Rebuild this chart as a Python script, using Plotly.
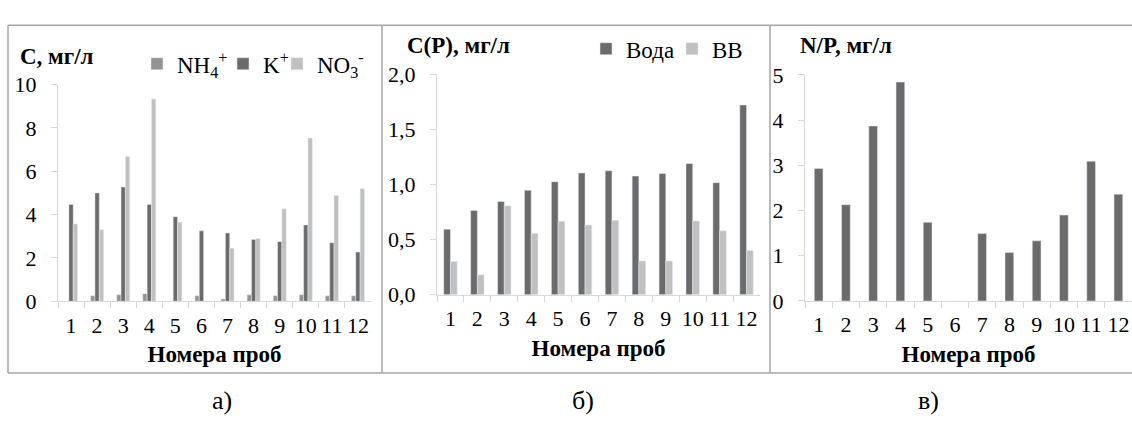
import plotly.graph_objects as go

W, H = 1132, 433

samples = [str(i) for i in range(1, 13)]

# Panel a: concentrations, mg/l
nh4 = [0, 0.25, 0.3, 0.35, 0, 0.25, 0.1, 0.3, 0.25, 0.3, 0.25, 0.25]
k_plus = [4.47, 5.0, 5.27, 4.47, 3.9, 3.25, 3.15, 2.85, 2.75, 3.52, 2.7, 2.27]
no3 = [3.57, 3.3, 6.68, 9.33, 3.65, 0, 2.45, 2.9, 4.27, 7.53, 4.88, 5.19]

# Panel b: phosphorus, mg/l
p_water = [0.594, 0.763, 0.846, 0.947, 1.024, 1.104, 1.124, 1.076, 1.099, 1.19, 1.016, 1.72]
p_ss = [0.30, 0.18, 0.806, 0.557, 0.666, 0.631, 0.674, 0.306, 0.306, 0.669, 0.58, 0.40]

# Panel c: N/P ratio
np_ratio = [2.93, 2.13, 3.87, 4.84, 1.74, 0, 1.49, 1.07, 1.33, 1.90, 3.09, 2.36]

ya_ticks = [0, 2, 4, 6, 8, 10]
yb_ticks = [0, 0.5, 1.0, 1.5, 2.0]
yb_labels = ["0,0", "0,5", "1,0", "1,5", "2,0"]
yc_ticks = [0, 1, 2, 3, 4, 5]

DARK = "#6b6b6b"
MID = "#939393"
LIGHT = "#c0c0c0"
AXC = "#d9d9d9"
SERIF = "Liberation Serif, Times New Roman, Times, DejaVu Serif, serif"


def px(x):
    return x / W


def py(y):
    return 1 - y / H


fig = go.Figure()
fig.add_trace(go.Bar(x=samples, y=nh4, name="NH<sub>4</sub><sup>+</sup>", marker_color=MID,
                     xaxis="x", yaxis="y", legend="legend"))
fig.add_trace(go.Bar(x=samples, y=k_plus, name="K<sup>+</sup>", marker_color=DARK,
                     xaxis="x", yaxis="y", legend="legend2"))
fig.add_trace(go.Bar(x=samples, y=no3, name="NO<sub>3</sub><sup>-</sup>", marker_color=LIGHT,
                     xaxis="x", yaxis="y", legend="legend3"))

fig.add_trace(go.Bar(x=samples, y=p_water, name="Вода", marker_color=DARK,
                     xaxis="x2", yaxis="y2", legend="legend4"))
fig.add_trace(go.Bar(x=samples, y=p_ss, name="ВВ", marker_color=LIGHT,
                     xaxis="x2", yaxis="y2", legend="legend5"))

fig.add_trace(go.Bar(x=samples, y=np_ratio, name="N/P", marker_color=DARK, width=0.32,
                     xaxis="x3", yaxis="y3", showlegend=False))

tickfont = dict(family=SERIF, size=22, color="black")
titlefont = dict(family=SERIF, size=23, color="black")

xcommon = dict(type="category", categoryorder="array", categoryarray=samples,
               tickmode="array", tickvals=samples, ticktext=samples, tickangle=0,
               showline=True, linecolor=AXC, linewidth=1, ticks="outside", tickson="boundaries",
               ticklen=6, tickcolor=AXC, showgrid=False, zeroline=False, tickfont=tickfont,
               ticklabelstandoff=4, fixedrange=True,
               title=dict(text="<b>Номера проб</b>", font=titlefont, standoff=9))
ycommon = dict(showline=True, linecolor=AXC, linewidth=1, ticks="outside", ticklen=6,
               tickcolor=AXC, showgrid=False, zeroline=False, tickfont=tickfont,
               ticklabelstandoff=10, fixedrange=True)


def leg(xpx, ypx):
    return dict(orientation="h", x=px(xpx), xanchor="left", y=py(ypx), yanchor="middle",
                font=dict(family=SERIF, size=23, color="black"), bgcolor="rgba(0,0,0,0)",
                itemwidth=30, tracegroupgap=0, borderwidth=0)


fig.update_layout(
    width=W, height=H, margin=dict(l=0, r=0, t=0, b=0, pad=0),
    paper_bgcolor="white", plot_bgcolor="white",
    barmode="group", bargap=0.5, bargroupgap=0,
    font=dict(family=SERIF, color="black"),
    xaxis=dict(domain=[px(58), px(371)], anchor="y", **xcommon),
    yaxis=dict(domain=[py(307), py(77)], anchor="x", range=[0, 10], tickvals=ya_ticks, **ycommon),
    xaxis2=dict(domain=[px(437), px(760)], anchor="y2", **xcommon),
    yaxis2=dict(domain=[py(300), py(66)], anchor="x2", range=[0, 2], tickvals=yb_ticks,
                ticktext=yb_labels, **ycommon),
    xaxis3=dict(domain=[px(805), 1.0], anchor="y3", **xcommon),
    yaxis3=dict(domain=[py(306.7), py(66.7)], anchor="x3", range=[0, 5], tickvals=yc_ticks, **ycommon),
    legend=leg(137, 55),
    legend2=leg(223, 55),
    legend3=leg(277, 55),
    legend4=leg(586, 39),
    legend5=leg(672, 39),
)

# panel titles
for txt, x, y in [("<b>С, мг/л</b>", 18, 47), ("<b>С(Р), мг/л</b>", 405, 36), ("<b>N/P, мг/л</b>", 798, 36)]:
    fig.add_annotation(text=txt, x=px(x), y=py(y), xref="paper", yref="paper", xanchor="left",
                       yanchor="middle", showarrow=False, font=dict(family=SERIF, size=23, color="black"))

# captions
for txt, x in [("а)", 222), ("б)", 583), ("в)", 928)]:
    fig.add_annotation(text=txt, x=px(x), y=py(412), xref="paper", yref="paper", xanchor="center",
                       yanchor="middle", showarrow=False, font=dict(family=SERIF, size=26, color="black"))

# frame
FR = "#a6a6a6"
frame = [(8, 14, W, 14), (8, 383, W, 383), (8, 14, 8, 383), (382, 14, 382, 383), (770, 14, 770, 383)]
for x0, y0, x1, y1 in frame:
    fig.add_shape(type="line", xref="paper", yref="paper", x0=px(x0), y0=py(y0), x1=px(x1), y1=py(y1),
                  line=dict(color=FR, width=1.5))

fig.write_html("out.html")
